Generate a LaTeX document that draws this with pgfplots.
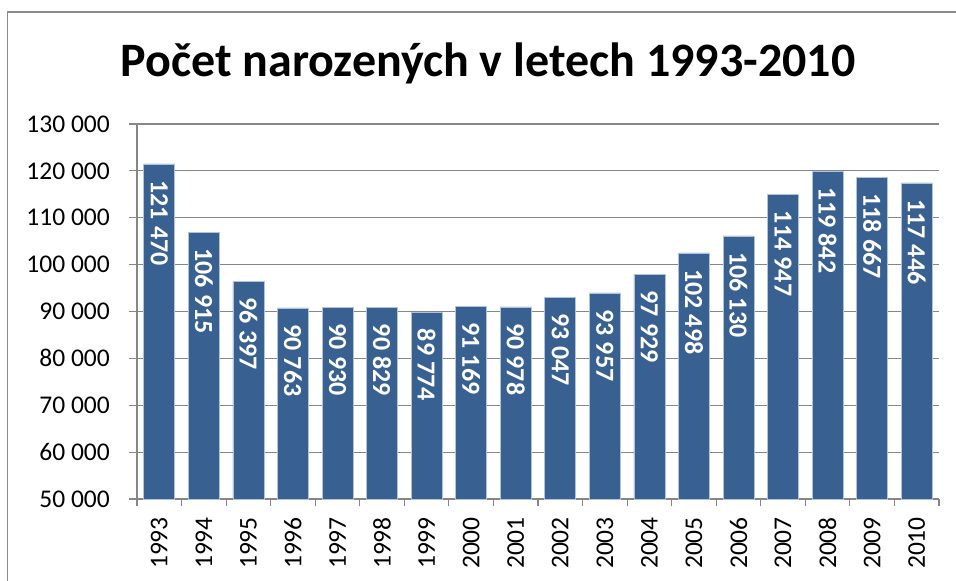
\documentclass[border=0pt]{standalone}
\usepackage{pgfplots}
\pgfplotsset{compat=1.18}
\usepackage{fontspec}
\setmainfont{Carlito}
\definecolor{barblue}{RGB}{56,96,145}
\definecolor{baredge}{RGB}{175,195,220}
\definecolor{gridgray}{RGB}{134,134,134}
\definecolor{framegray}{RGB}{140,140,140}
\begin{document}
\begin{tikzpicture}
\useasboundingbox (0pt,0pt) rectangle (956pt,581pt);
\draw[framegray, line width=1.2pt] (7.5pt,-10pt) rectangle (970pt,569pt);
\node[anchor=base, inner sep=0pt, font=\fontsize{48}{58}\selectfont\bfseries] at (488pt,504pt) {Počet narozených v letech 1993-2010};
\begin{axis}[
  at={(137pt,82pt)}, anchor=south west,
  scale only axis, width=802pt, height=375pt,
  ybar, bar width=31pt,
  xmin=-0.5, xmax=17.5, ymin=50000, ymax=130000,
  scaled y ticks=false,
  ytick={50000,60000,...,130000},
  yticklabels={50 000,60 000,70 000,80 000,90 000,100 000,110 000,120 000,130 000},
  xtick={0,...,17},
  xticklabels={1993,1994,1995,1996,1997,1998,1999,2000,2001,2002,2003,2004,2005,2006,2007,2008,2009,2010},
  minor xtick={-0.5,0.5,...,17.5},
  axis lines*=left,
  axis line style={gridgray, line width=1.2pt},
  ymajorgrids,
  major grid style={gridgray, line width=1.2pt},
  tick align=outside,
  major tick length=8pt,
  minor tick length=7pt,
  major x tick style={draw=none},
  minor x tick style={gridgray, line width=1.2pt},
  ytick style={gridgray, line width=1.2pt},
  ticklabel style={font=\fontsize{25.5}{30}\selectfont},
  yticklabel style={anchor=east, inner sep=0pt, xshift=-19pt},
  xticklabel style={rotate=90, anchor=east, inner xsep=10pt, inner ysep=0pt},
  nodes near coords={\pgfmathprintnumber[assume math mode=true, fixed, precision=0, 1000 sep={\hspace{0.24em}}]{\pgfplotspointmeta}},
  every node near coord/.append style={rotate=-90, anchor=west, inner xsep=16pt, inner ysep=0pt, text=white, font=\fontsize{26}{31}\selectfont\bfseries},
]
\addplot[fill=barblue, draw=baredge, line width=0.6pt] coordinates {
(0,121470) (1,106915) (2,96397) (3,90763) (4,90930) (5,90829)
(6,89774) (7,91169) (8,90978) (9,93047) (10,93957) (11,97929)
(12,102498) (13,106130) (14,114947) (15,119842) (16,118667) (17,117446)
};
\end{axis}
\end{tikzpicture}
\end{document}
